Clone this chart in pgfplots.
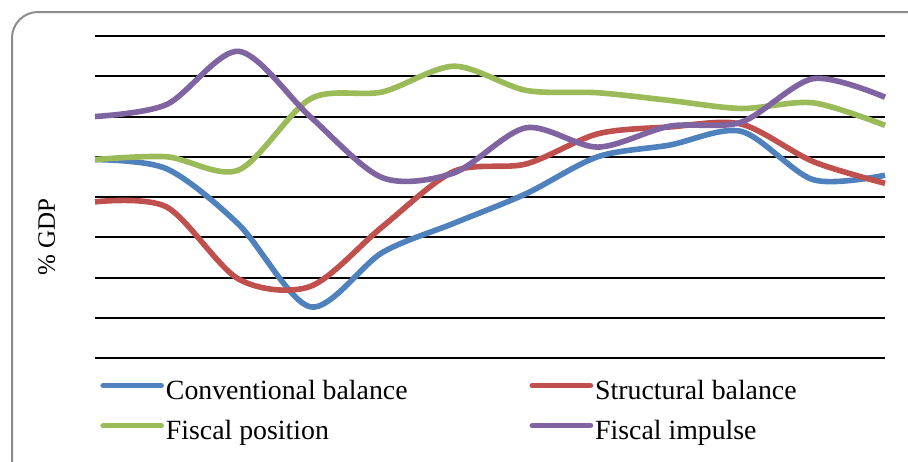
\documentclass[border=0pt]{standalone}
\usepackage{fontspec}
\setmainfont{Liberation Serif}
\usepackage{pgfplots}
\pgfplotsset{compat=1.18}
\definecolor{cblue}{HTML}{4F81BD}
\definecolor{cred}{HTML}{C0504D}
\definecolor{cgreen}{HTML}{9BBB59}
\definecolor{cpurple}{HTML}{8064A2}
\begin{document}
\begin{tikzpicture}
\path[use as bounding box] (0pt,0pt) rectangle (454pt,-230.5pt);
\draw[color=black!45, line width=1pt, rounded corners=13pt] (6pt,-6pt) rectangle (470pt,-245pt);
\begin{axis}[
  at={(47.5pt,-179pt)}, anchor=south west,
  scale only axis, width=395pt, height=161pt,
  xmin=0, xmax=11, ymin=0, ymax=8,
  axis line style={draw=none},
  xtick=\empty, ytick={0,1,...,8}, yticklabels={},
  major tick length=0pt,
  ymajorgrids, major grid style={black, line width=1pt},
  clip=false,
  every axis y label/.style={at={(axis description cs:-0.061,0.376)}, rotate=90, anchor=center, font=\fontsize{12.5}{14}\selectfont},
  ylabel={\%~GDP},
  legend columns=2,
  legend style={at={(axis description cs:0.0063,-0.066)}, anchor=north west, draw=none, fill=none,
    font=\fontsize{13.9}{16}\selectfont, inner sep=0pt, row sep=7pt,
    nodes={inner xsep=1pt, inner ysep=0pt, text height=10pt, text depth=3pt},
    /tikz/every even column/.append style={column sep=60pt}},
  legend cell align=left,
  legend image code/.code={\draw[line width=2.8pt, line cap=round] (0pt,3.5pt) -- (29pt,3.5pt);},
  every axis plot/.append style={line width=2.8pt, smooth, tension=0.5},
]
\addplot[cblue] coordinates {(0,4.93) (1,4.70) (2,3.32) (3,1.27) (4,2.62) (5,3.35) (6,4.08) (7,5.00) (8,5.29) (9,5.63) (10,4.43) (11,4.54)};
\addplot[cred] coordinates {(0,3.88) (1,3.75) (2,1.96) (3,1.78) (4,3.26) (5,4.64) (6,4.82) (7,5.57) (8,5.74) (9,5.81) (10,4.88) (11,4.34)};
\addplot[cgreen] coordinates {(0,4.93) (1,5.00) (2,4.67) (3,6.44) (4,6.61) (5,7.25) (6,6.65) (7,6.59) (8,6.40) (9,6.20) (10,6.34) (11,5.78)};
\addplot[cpurple] coordinates {(0,6.00) (1,6.30) (2,7.62) (3,5.99) (4,4.48) (5,4.60) (6,5.72) (7,5.24) (8,5.76) (9,5.86) (10,6.94) (11,6.48)};
\legend{Conventional balance, Structural balance, Fiscal position, Fiscal impulse}
\end{axis}
\end{tikzpicture}
\end{document}
